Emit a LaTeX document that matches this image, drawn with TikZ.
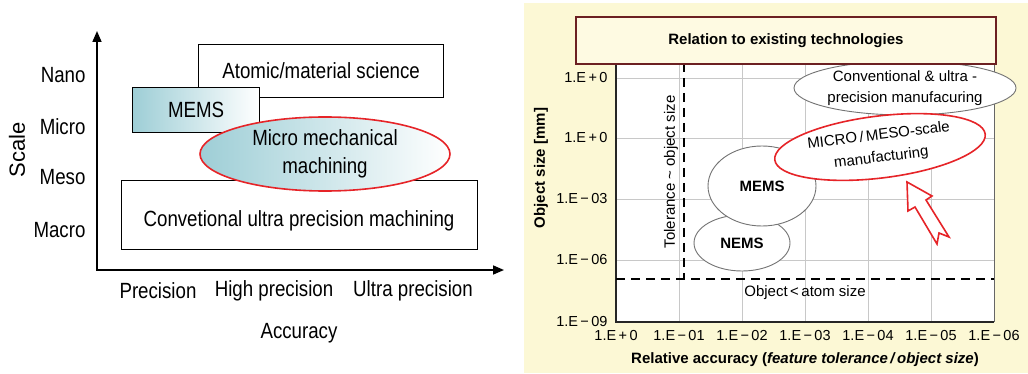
\documentclass[tikz,border=0pt]{standalone}
\usepackage{fontspec}
\setmainfont{Liberation Sans}
\newfontfamily\narrowfont[FakeStretch=0.85]{Liberation Sans}
\usetikzlibrary{arrows.meta,shapes.geometric}
\definecolor{memsteal}{RGB}{158,206,214}
\definecolor{paneyellow}{RGB}{252,248,213}
\definecolor{titlefill}{RGB}{254,250,226}
\definecolor{titleedge}{RGB}{108,32,34}
\definecolor{markred}{RGB}{230,36,40}
\definecolor{gridgray}{RGB}{200,200,200}
\begin{document}
\begin{tikzpicture}[x = 1pt, y = -1pt,
  box/.style = {draw, line width = 1.2pt, inner sep = 0pt},
  tealfade/.style = {left color = memsteal, middle color = white, right color = white},
  narrowlbl/.style = {font = \narrowfont\fontsize{22}{28}\selectfont},
  ticklbl/.style = {font = \fontsize{14.5}{17}\selectfont},
  boldlbl/.style = {font = \bfseries\fontsize{15}{18}\selectfont},
  plainlbl/.style = {font = \fontsize{15}{21}\selectfont},
  blob/.style = {ellipse, draw = black!55, fill = white, line width = 0.9pt, inner sep = 0pt},
  gridline/.style = {gridgray, line width = 0.8pt},
  limitline/.style = {dashed, dash pattern = on 9pt off 6pt, line width = 2pt}]
\useasboundingbox (0, 0) rectangle (1028, 374);

% left: scale against accuracy
\node[box, anchor = north west, minimum width = 245pt, minimum height = 53pt, narrowlbl] (atomic) at (198, 44) {Atomic/material science};
\node[box, anchor = north west, minimum width = 127pt, minimum height = 45pt, narrowlbl, tealfade] (mems) at (132, 87) {MEMS};
\node[box, anchor = north west, minimum width = 356pt, minimum height = 69pt] (conv) at (121, 180) {};
\node[narrowlbl] (convtext) at (299, 221) {Convetional ultra precision machining};
\node[ellipse, draw = markred, line width = 1.6pt, inner sep = 0pt, minimum width = 250pt, minimum height = 74pt, tealfade, align = center, narrowlbl] (micro) at (325, 154) {Micro mechanical\\machining};

\coordinate (o) at (97, 270);
\coordinate (ytop) at (97, 31);
\coordinate (xend) at (504, 270);
\draw[line width = 1.6pt, {Triangle[length = 11pt, width = 9pt]}-{Triangle[length = 11pt, width = 9pt]}] (ytop) -- (o) -- (xend);

\node[narrowlbl, anchor = east] (nano) at (89, 75) {Nano};
\node[narrowlbl, anchor = east] (microlbl) at (89, 127) {Micro};
\node[narrowlbl, anchor = east] (meso) at (89, 177) {Meso};
\node[narrowlbl, anchor = east] (macro) at (89, 230) {Macro};
\node[rotate = 90, font = \fontsize{22}{26}\selectfont] (scale) at (17, 150) {Scale};

\node[narrowlbl] (prec) at (158, 291) {Precision};
\node[narrowlbl] (hprec) at (274, 291) {High precision};
\node[narrowlbl] (uprec) at (413, 291) {Ultra precision};
\node[narrowlbl] (accuracy) at (299, 333) {Accuracy};

% right: relation to existing technologies
\fill[paneyellow] (524, 3) rectangle (1028, 373);
\fill[white] (616, 63) rectangle (994, 322);
\foreach \gx in {679, 742, 805, 868, 931}
  \draw[gridline] (\gx, 63) -- (\gx, 322);
\foreach \gy in {78, 138, 199, 260}
  \draw[gridline] (616, \gy) -- (994, \gy);
\draw[black!60, line width = 1pt] (994, 63) -- (994, 322);
\draw[black!85, line width = 1.5pt] (616, 63) -- (616, 322) -- (994, 322);

\foreach \tx/\tl [count = \i] in {616/{1.E\,+\,0}, 679/{1.E\,−\,01}, 742/{1.E\,−\,02}, 805/{1.E\,−\,03}, 868/{1.E\,−\,04}, 931/{1.E\,−\,05}, 994/{1.E\,−\,06}}
  \node[ticklbl] (xt\i) at (\tx, 336) {\tl};
\foreach \ty/\tl [count = \i] in {78/{1.E\,+\,0}, 138/{1.E\,+\,0}, 199/{1.E\,−\,03}, 260/{1.E\,−\,06}, 322/{1.E\,−\,09}}
  \node[ticklbl, anchor = east] (yt\i) at (611, \ty) {\tl};

\node[boldlbl] (xlabel) at (805, 360) {Relative accuracy (\textit{feature tolerance\,/\,object size})};
\node[boldlbl, rotate = 90] (ylabel) at (541, 168) {Object size [mm]};

\coordinate (tolend) at (684, 279);
\draw[limitline] (684, 63) -- (tolend);
\draw[limitline] (616, 279) -- (994, 279);
\node[plainlbl, rotate = 90] (tol) at (671, 172) {Tolerance \textasciitilde\ object size};
\node[plainlbl] (atom) at (805, 293) {Object\,<\,atom size};

\node[blob, minimum width = 96pt, minimum height = 56pt, boldlbl] (nems) at (742, 243) {NEMS};
\node[blob, minimum width = 108pt, minimum height = 80pt, boldlbl] (memsr) at (762, 186) {MEMS};
\node[blob, minimum width = 222pt, minimum height = 54pt, plainlbl, align = center] (convr) at (905, 88) {Conventional \& ultra -\\precision manufacuring};
\node[ellipse, draw = markred, fill = white, line width = 1.6pt, inner sep = 0pt, minimum width = 212pt, minimum height = 62pt, rotate = 7, plainlbl, align = center] (mmscale) at (880, 147) {MICRO\,/\,MESO-scale\\[1pt]manufacturing};

\draw[markred, line width = 1.6pt, line join = miter, fill = white] (907, 182) -- (932, 196) -- (926, 200) -- (949, 237) -- (939, 233) -- (937, 244) -- (915, 207) -- (908, 211) -- cycle;

\node[anchor = north west, draw = titleedge, fill = titlefill, line width = 1.8pt, minimum width = 420pt, minimum height = 47pt, boldlbl] (title) at (575, 16) {Relation to existing technologies};
\end{tikzpicture}
\end{document}
